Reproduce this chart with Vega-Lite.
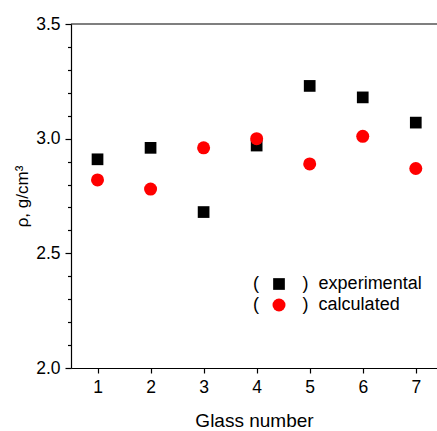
{
  "$schema": "https://vega.github.io/schema/vega-lite/v6.json",
  "width": 366,
  "height": 344,
  "autosize": "none",
  "padding": {"left": 71, "top": 24, "right": 0, "bottom": 63},
  "config": {
    "view": {"stroke": null},
    "font": "Liberation Sans",
    "axis": {
      "grid": false,
      "domainColor": "black",
      "domainWidth": 1.2,
      "tickColor": "black",
      "tickWidth": 1.2,
      "labelColor": "black",
      "labelFont": "Liberation Sans",
      "titleColor": "black",
      "titleFont": "Liberation Sans",
      "titleFontWeight": "normal",
      "labelOverlap": false,
      "labelFlush": false
    }
  },
  "data": {
    "values": [
      {"glass": 1, "rho": 2.91, "series": "experimental"},
      {"glass": 2, "rho": 2.96, "series": "experimental"},
      {"glass": 3, "rho": 2.68, "series": "experimental"},
      {"glass": 4, "rho": 2.97, "series": "experimental"},
      {"glass": 5, "rho": 3.23, "series": "experimental"},
      {"glass": 6, "rho": 3.18, "series": "experimental"},
      {"glass": 7, "rho": 3.07, "series": "experimental"},
      {"glass": 1, "rho": 2.82, "series": "calculated"},
      {"glass": 2, "rho": 2.78, "series": "calculated"},
      {"glass": 3, "rho": 2.96, "series": "calculated"},
      {"glass": 4, "rho": 3.00, "series": "calculated"},
      {"glass": 5, "rho": 2.89, "series": "calculated"},
      {"glass": 6, "rho": 3.01, "series": "calculated"},
      {"glass": 7, "rho": 2.87, "series": "calculated"}
    ]
  },
  "layer": [
    {
      "data": {"values": [{}]},
      "mark": {"type": "rule", "color": "black", "strokeWidth": 1.2},
      "encoding": {
        "y": {"datum": 3.5, "type": "quantitative", "scale": {"domain": [2, 3.5], "nice": false, "zero": false}}
      }
    },
    {
      "mark": {"type": "point", "filled": true, "opacity": 1, "strokeWidth": 0},
      "encoding": {
        "x": {
          "field": "glass",
          "type": "quantitative",
          "scale": {"domain": [0.5, 7.4], "nice": false, "zero": false},
          "axis": {
            "orient": "bottom",
            "values": [1, 2, 3, 4, 5, 6, 7],
            "tickCount": 10,
            "format": "d",
            "tickSize": 5,
            "labelFontSize": 17.5,
            "labelPadding": 5,
            "title": "Glass number",
            "titleFontSize": 19,
            "titlePadding": 16
          }
        },
        "y": {
          "field": "rho",
          "type": "quantitative",
          "scale": {"domain": [2, 3.5], "nice": false, "zero": false},
          "axis": {
            "values": [2, 2.1, 2.2, 2.3, 2.4, 2.5, 2.6, 2.7, 2.8, 2.9, 3, 3.1, 3.2, 3.3, 3.4, 3.5],
            "tickCount": 20,
            "tickSize": {"condition": {"test": "abs(datum.value*2 - round(datum.value*2)) < 0.01", "value": 6}, "value": 3.5},
            "labelExpr": "abs(datum.value*2 - round(datum.value*2)) < 0.01 ? format(datum.value, '.1f') : ''",
            "labelFontSize": 17.5,
            "labelPadding": 5,
            "title": "ρ, g/cm³",
            "titleFontSize": 17,
            "titlePadding": 4
          }
        },
        "color": {
          "field": "series",
          "type": "nominal",
          "scale": {"domain": ["experimental", "calculated"], "range": ["black", "red"]},
          "legend": {
            "orient": "none",
            "legendX": 199,
            "legendY": 251,
            "title": null,
            "padding": 0,
            "labelFontSize": 18,
            "labelFont": "Liberation Sans",
            "labelColor": "black",
            "labelLimit": 400,
            "labelOffset": -35,
            "symbolOffset": 0,
            "rowPadding": 3,
            "symbolStrokeWidth": 0,
            "labelExpr": "'(\u00a0\u00a0\u00a0\u00a0\u00a0\u00a0\u00a0\u00a0\u2009)\u00a0\u00a0' + datum.label"
          }
        },
        "shape": {
          "field": "series",
          "type": "nominal",
          "scale": {"domain": ["experimental", "calculated"], "range": ["square", "circle"]}
        },
        "size": {
          "field": "series",
          "type": "nominal",
          "scale": {"domain": ["experimental", "calculated"], "range": [137, 169]}
        }
      }
    }
  ]
}
